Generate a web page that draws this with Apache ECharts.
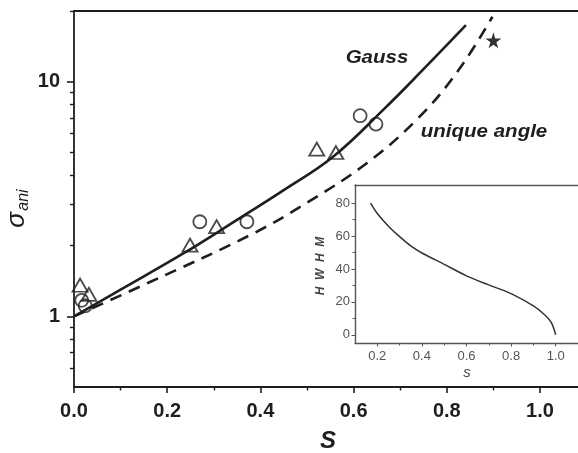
<!DOCTYPE html>
<html>
<head>
<meta charset="utf-8">
<script src="https://cdn.jsdelivr.net/npm/echarts@6/dist/echarts.min.js"></script>
<style>
  html, body { margin: 0; padding: 0; background: #fff; }
  #chart { width: 578px; height: 453px; }
</style>
</head>
<body>
<div id="chart"></div>
<script>
// Anisotropy ratio sigma_ani against order parameter S (log scale)
const gaussS     = [0, 0.10, 0.2346, 0.349, 0.45, 0.556, 0.664, 0.75, 0.841];
const gaussSigma = [1, 1.30, 1.853, 2.57, 3.45, 4.79, 7.60, 11.3, 17.4];

const uniqueS     = [0, 0.163, 0.378, 0.50, 0.628, 0.735, 0.821, 0.898];
const uniqueSigma = [1, 1.40, 2.22, 3.05, 4.49, 6.88, 10.9, 18.9];

const triangleS     = [0.013, 0.032, 0.249, 0.306, 0.521, 0.562];
const triangleSigma = [1.357, 1.24, 2.01, 2.41, 5.16, 4.99];

const circleS     = [0.0165, 0.024, 0.27, 0.371, 0.614, 0.648];
const circleSigma = [1.17, 1.11, 2.53, 2.53, 7.16, 6.59];

const starS     = [0.90];
const starSigma = [15.0];

// Inset: half width at half maximum (degrees) against s
const insetS    = [0.17, 0.2, 0.25, 0.3, 0.35, 0.4, 0.5, 0.6, 0.7, 0.8, 0.9, 0.95, 0.98, 1.0];
const insetHWHM = [80, 73.7, 66, 59.6, 54, 49.7, 42.8, 35.8, 30.3, 25.0, 17.5, 12.2, 7.5, 0];

const mainXLabels = [0, 0.2, 0.4, 0.6, 0.8, 1.0];
const mainXMinor  = [0.1, 0.3, 0.5, 0.7, 0.9];
const mainYLabels = [1, 10];
const mainYMinor  = [0.6, 0.7, 0.8, 0.9, 2, 3, 4, 5, 6, 7, 8, 9, 20];
const insetXLabels = [0.2, 0.4, 0.6, 0.8, 1.0];
const insetXMinor  = [0.3, 0.5, 0.7, 0.9];
const insetYLabels = [0, 20, 40, 60, 80];
const insetYMinor  = [10, 30, 50, 70];

const zip = (a, b) => a.map((v, i) => [v, b[i]]);

const INK = '#1e1e1e';
const GREY = '#555';
const FONT = 'Liberation Sans, Arial, sans-serif';
const STAR = 'path://M50,0 L61,35 L98,35 L68,57 L79,91 L50,70 L21,91 L32,57 L2,35 L39,35 Z';

const MAIN_XMAX = 504 / 466;

// An axis that draws nothing unless told to
function baseAxis(extra) {
  const a = Object.assign({
    axisTick: { show: false },
    axisLabel: { show: false },
    splitLine: { show: false },
    minorTick: { show: false },
    minorSplitLine: { show: false }
  }, extra);
  a.axisLine = Object.assign({ show: false }, extra.axisLine || {}, { onZero: false });
  return a;
}

const chart = echarts.init(document.getElementById('chart'), null, { renderer: 'canvas' });

chart.setOption({
  animation: false,
  backgroundColor: '#fff',
  grid: [
    { left: 74, top: 11, width: 504, height: 376, containLabel: false },
    { left: 355, top: 185, width: 223, height: 158, containLabel: false,
      show: true, backgroundColor: '#fff', borderWidth: 0 }
  ],
  xAxis: [
    // main bottom axis with labels
    baseAxis({
      gridIndex: 0, type: 'value', min: 0, max: MAIN_XMAX, position: 'bottom',
      axisLine: { show: true, lineStyle: { color: INK, width: 1.8 } },
      axisTick: { show: true, inside: false, length: 6, customValues: mainXLabels,
                  lineStyle: { color: INK, width: 1.6 } },
      axisLabel: { show: true, customValues: mainXLabels, margin: 14, color: INK,
                   fontSize: 20, fontWeight: 'bold', fontFamily: FONT,
                   formatter: v => v.toFixed(1) }
    }),
    // main minor ticks
    baseAxis({
      gridIndex: 0, type: 'value', min: 0, max: MAIN_XMAX, position: 'bottom',
      axisTick: { show: true, inside: false, length: 3.5, customValues: mainXMinor,
                  lineStyle: { color: INK, width: 1.4 } }
    }),
    // main top frame line
    baseAxis({
      gridIndex: 0, type: 'value', min: 0, max: MAIN_XMAX, position: 'top',
      axisLine: { show: true, lineStyle: { color: INK, width: 1.8 } }
    }),
    // inset bottom axis
    baseAxis({
      gridIndex: 1, type: 'value', min: 0.1, max: 1.1, position: 'bottom',
      axisLine: { show: true, lineStyle: { color: GREY, width: 1.4 } },
      axisTick: { show: true, inside: false, length: 3.5, customValues: insetXLabels,
                  lineStyle: { color: GREY, width: 1 } },
      axisLabel: { show: true, customValues: insetXLabels, margin: 7, color: GREY,
                   fontSize: 13, fontFamily: FONT, formatter: v => v.toFixed(1) }
    }),
    baseAxis({
      gridIndex: 1, type: 'value', min: 0.1, max: 1.1, position: 'bottom',
      axisTick: { show: true, inside: false, length: 2.5, customValues: insetXMinor,
                  lineStyle: { color: GREY, width: 1 } }
    }),
    // inset top frame line
    baseAxis({
      gridIndex: 1, type: 'value', min: 0.1, max: 1.1, position: 'top',
      axisLine: { show: true, lineStyle: { color: GREY, width: 1.4 } }
    })
  ],
  yAxis: [
    baseAxis({
      gridIndex: 0, type: 'log', logBase: 10, min: 0.5, max: 20, position: 'left',
      axisLine: { show: true, lineStyle: { color: INK, width: 1.8 } },
      axisTick: { show: true, inside: false, length: 7, customValues: mainYLabels,
                  lineStyle: { color: INK, width: 1.6 } },
      axisLabel: { show: true, customValues: mainYLabels, margin: 14, color: INK,
                   fontSize: 20, fontWeight: 'bold', fontFamily: FONT,
                   formatter: v => String(Math.round(v)) }
    }),
    baseAxis({
      gridIndex: 0, type: 'log', logBase: 10, min: 0.5, max: 20, position: 'left',
      axisTick: { show: true, inside: false, length: 4, customValues: mainYMinor,
                  lineStyle: { color: INK, width: 1.4 } }
    }),
    baseAxis({
      gridIndex: 1, type: 'value', min: -5, max: 91, position: 'left',
      axisLine: { show: true, lineStyle: { color: GREY, width: 1.4 } },
      axisTick: { show: true, inside: false, length: 3.5, customValues: insetYLabels,
                  lineStyle: { color: GREY, width: 1 } },
      axisLabel: { show: true, customValues: insetYLabels, margin: 5, color: GREY,
                   fontSize: 13, fontFamily: FONT }
    }),
    baseAxis({
      gridIndex: 1, type: 'value', min: -5, max: 91, position: 'left',
      axisTick: { show: true, inside: false, length: 2.5, customValues: insetYMinor,
                  lineStyle: { color: GREY, width: 1 } }
    })
  ],
  series: [
    {
      name: 'Gauss', type: 'line', xAxisIndex: 0, yAxisIndex: 0,
      data: zip(gaussS, gaussSigma), smooth: 0.4, showSymbol: false, symbol: 'none',
      lineStyle: { color: INK, width: 2.6 }, z: 2
    },
    {
      name: 'unique angle', type: 'line', xAxisIndex: 0, yAxisIndex: 0,
      data: zip(uniqueS, uniqueSigma), smooth: 0.4, showSymbol: false, symbol: 'none',
      lineStyle: { color: INK, width: 2.6, type: [12, 8] }, z: 2
    },
    {
      type: 'scatter', xAxisIndex: 0, yAxisIndex: 0, data: zip(triangleS, triangleSigma),
      symbol: 'triangle', symbolSize: [15, 13],
      itemStyle: { color: 'transparent', borderColor: INK, borderWidth: 1.8 }, z: 3
    },
    {
      type: 'scatter', xAxisIndex: 0, yAxisIndex: 0, data: zip(circleS, circleSigma),
      symbol: 'circle', symbolSize: 13,
      itemStyle: { color: 'transparent', borderColor: INK, borderWidth: 1.8 }, z: 3
    },
    {
      type: 'scatter', xAxisIndex: 0, yAxisIndex: 0, data: zip(starS, starSigma),
      symbol: STAR, symbolSize: 16,
      itemStyle: { color: '#000' }, z: 3
    },
    {
      name: 'HWHM', type: 'line', xAxisIndex: 3, yAxisIndex: 2,
      data: zip(insetS, insetHWHM), smooth: 0.3, showSymbol: false, symbol: 'none',
      lineStyle: { color: '#333', width: 1.5 }, z: 5
    }
  ],
  graphic: [
    { type: 'text', x: 328, y: 441, z: 10,
      style: { text: 'S', fill: INK, font: 'italic bold 24px ' + FONT, align: 'center', verticalAlign: 'middle' } },
    { type: 'text', x: 17, y: 220, rotation: Math.PI / 2, z: 10,
      style: { text: 'σ', fill: INK, font: 'italic 26px ' + FONT, align: 'center', verticalAlign: 'middle' } },
    { type: 'text', x: 24, y: 200, rotation: Math.PI / 2, z: 10,
      style: { text: 'ani', fill: INK, font: 'italic 16px ' + FONT, align: 'center', verticalAlign: 'middle' } },
    { type: 'text', x: 377, y: 58, scaleX: 1.08, z: 10,
      style: { text: 'Gauss', fill: INK, font: 'italic bold 19px ' + FONT, align: 'center', verticalAlign: 'middle' } },
    { type: 'text', x: 484, y: 132, scaleX: 1.08, z: 10,
      style: { text: 'unique angle', fill: INK, font: 'italic bold 19px ' + FONT, align: 'center', verticalAlign: 'middle' } },
    { type: 'text', x: 467, y: 373, z: 10,
      style: { text: 's', fill: '#444', font: 'italic 15px ' + FONT, align: 'center', verticalAlign: 'middle' } },
    { type: 'text', x: 321, y: 266, rotation: Math.PI / 2, z: 10,
      style: { text: 'H  W  H  M', fill: '#444', font: 'italic bold 12px ' + FONT, align: 'center', verticalAlign: 'middle' } }
  ]
});
</script>
</body>
</html>
